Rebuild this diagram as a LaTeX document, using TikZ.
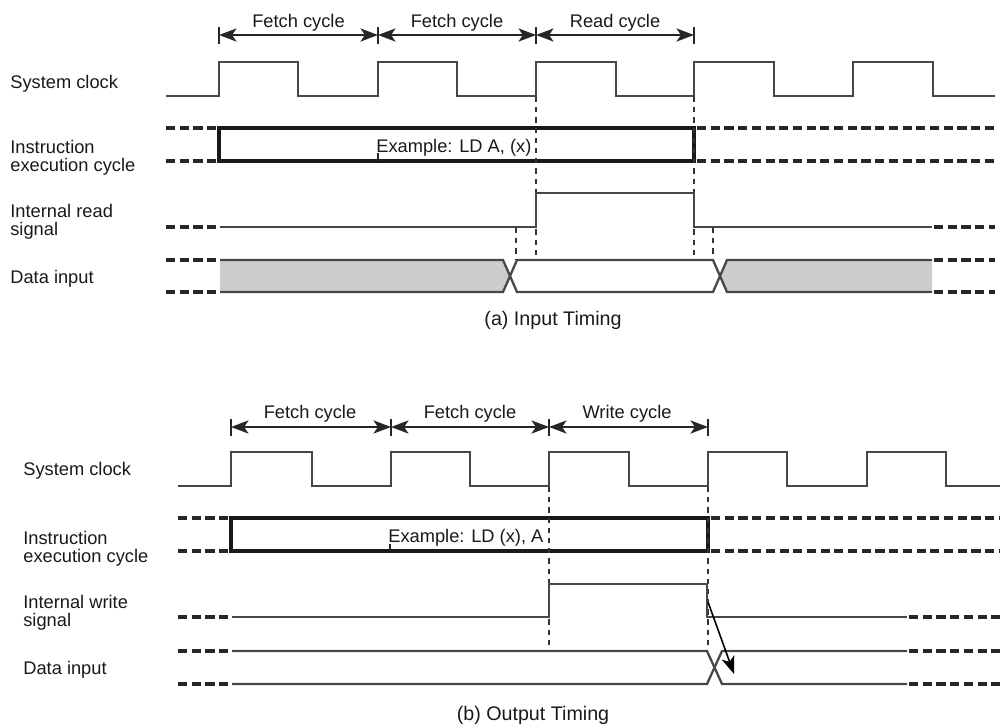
\documentclass[tikz,border=0pt]{standalone}
\usepackage{fontspec}
\setmainfont{Liberation Sans}
\usetikzlibrary{arrows.meta}
\begin{document}
\begin{tikzpicture}[x=0.02cm,y=-0.02cm,
  lbl/.style={font=\fontsize{10.4}{10.2}\selectfont, text=black!90, inner sep=0pt, align=left},
  captiontext/.style={font=\fontsize{11.2}{13}\selectfont, text=black!90, inner sep=0pt},
  sig/.style={line width=1.3pt, draw=black!72, line join=miter},
  boxline/.style={line width=1.8pt, draw=black!90},
  ext/.style={line width=1.8pt, draw=black!85, dash pattern=on 5.2pt off 2.6pt},
  guide/.style={line width=0.85pt, draw=black!80, dash pattern=on 3pt off 2.8pt},
  tickline/.style={line width=0.9pt, draw=black!85},
  tip/.style={Stealth[length=10pt,width=7.5pt,inset=2.6pt]},
  dim/.style={line width=0.9pt, draw=black!85, {Stealth[length=10pt,width=7.5pt,inset=2.6pt]}-{Stealth[length=10pt,width=7.5pt,inset=2.6pt]}},
  hatch/.style={fill=black!20},
]
\useasboundingbox (0,0) rectangle (1000,727);

% ================= (a) Input timing =================
\node[lbl, anchor=west] (aclk) at (10,84) {System clock};
\node[lbl, anchor=west] (aiec) at (10,158) {Instruction\\execution cycle};
\node[lbl, anchor=west] (ards) at (10,222) {Internal read\\signal};
\node[lbl, anchor=west] (adat) at (10,279) {Data input};

\foreach \n/\x in {1/219,2/378,3/536,4/694}{
  \coordinate (at\n) at (\x,27);
  \coordinate (ab\n) at (\x,44);
  \coordinate (am\n) at (\x,35);
  \draw[tickline] (at\n) -- (ab\n);
}
\draw[dim] (am1) -- (am2);
\draw[dim] (am2) -- (am3);
\draw[dim] (am3) -- (am4);
\node[lbl, anchor=base] (af1) at (298.5,27) {Fetch cycle};
\node[lbl, anchor=base] (af2) at (457,27) {Fetch cycle};
\node[lbl, anchor=base] (ard) at (615,27) {Read cycle};

\draw[sig] (166,96)--(219,96)--(219,62)--(298,62)--(298,96)--(378,96)--(378,62)--(457,62)--(457,96)--(536,96)--(536,62)--(616,62)--(616,96)--(694,96)--(694,62)--(774,62)--(774,96)--(853,96)--(853,62)--(933,62)--(933,96)--(995,96);

\draw[ext] (166,128) -- (216,128);
\draw[ext] (166,161) -- (216,161);
\draw[boxline] (219,128) rectangle (694,161);
\draw[ext] (697,128) -- (995,128);
\draw[ext] (697,161) -- (995,161);
\draw[tickline] (378,153) -- (378,161);
\node[lbl, anchor=base west] (aex) at (376,152) {Example: LD A, (x)};

\draw[guide] (536,97) -- (536,257);
\draw[guide] (694,97) -- (694,257);
\draw[guide] (516,228) -- (516,259);
\draw[guide] (713,228) -- (713,259);

\draw[ext] (166,227) -- (216,227);
\draw[sig] (220,227)--(536,227)--(536,193)--(694,193)--(694,227)--(932,227);
\draw[ext] (934,227) -- (995,227);

\fill[hatch] (220,260)--(503,260)--(510,276)--(503,292)--(220,292)--cycle;
\fill[hatch] (727,260)--(932,260)--(932,292)--(727,292)--(720,276)--cycle;
\draw[ext] (166,260) -- (216,260);
\draw[ext] (166,292) -- (216,292);
\draw[sig] (220,260)--(503,260)--(517,292)--(713,292)--(727,260)--(932,260);
\draw[sig] (220,292)--(503,292)--(517,260)--(713,260)--(727,292)--(932,292);
\draw[ext] (934,260) -- (995,260);
\draw[ext] (934,292) -- (995,292);

\node[captiontext, anchor=base] (acap) at (553,325) {(a) Input Timing};

% ================= (b) Output timing =================
\node[lbl, anchor=west] (bclk) at (23,471) {System clock};
\node[lbl, anchor=west] (biec) at (23,549) {Instruction\\execution cycle};
\node[lbl, anchor=west] (bwrs) at (23,613) {Internal write\\signal};
\node[lbl, anchor=west] (bdat) at (23,670) {Data input};

\foreach \n/\x in {1/231,2/391,3/549,4/708}{
  \coordinate (bt\n) at (\x,419);
  \coordinate (bb\n) at (\x,436);
  \coordinate (bm\n) at (\x,427);
  \draw[tickline] (bt\n) -- (bb\n);
}
\draw[dim] (bm1) -- (bm2);
\draw[dim] (bm2) -- (bm3);
\draw[dim] (bm3) -- (bm4);
\node[lbl, anchor=base] (bf1) at (310,418) {Fetch cycle};
\node[lbl, anchor=base] (bf2) at (470,418) {Fetch cycle};
\node[lbl, anchor=base] (bwr) at (627,418) {Write cycle};

\draw[sig] (178,486)--(231,486)--(231,452)--(312,452)--(312,486)--(391,486)--(391,452)--(470,452)--(470,486)--(549,486)--(549,452)--(629,452)--(629,486)--(708,486)--(708,452)--(787,452)--(787,486)--(867,486)--(867,452)--(946,452)--(946,486)--(1000,486);

\draw[ext] (178,518) -- (228,518);
\draw[ext] (178,551) -- (228,551);
\draw[boxline] (231,518) rectangle (708,551);
\draw[ext] (711,518) -- (1000,518);
\draw[ext] (711,551) -- (1000,551);
\draw[tickline] (390,544) -- (390,551);
\node[lbl, anchor=base west] (bex) at (388,542) {Example: LD (x), A};

\draw[guide] (549,487) -- (549,648);
\draw[guide] (708,487) -- (708,648);

\draw[ext] (178,617) -- (228,617);
\draw[sig] (232,617)--(549,617)--(549,584)--(707,584)--(707,617)--(907,617);
\draw[ext] (909,617) -- (1000,617);

\draw[ext] (178,651) -- (228,651);
\draw[ext] (178,684) -- (228,684);
\draw[sig] (232,651)--(707,651)--(722,684)--(907,684);
\draw[sig] (232,684)--(707,684)--(722,651)--(907,651);
\draw[ext] (909,651) -- (1000,651);
\draw[ext] (909,684) -- (1000,684);

\coordinate (wfall) at (708,602);
\coordinate (dchg) at (734,674);
\draw[line width=0.9pt, draw=black, -{Stealth[length=10pt,width=7.5pt,inset=2.6pt]}] (wfall) -- (dchg);

\node[captiontext, anchor=base] (bcap) at (533,720) {(b) Output Timing};
\end{tikzpicture}
\end{document}
